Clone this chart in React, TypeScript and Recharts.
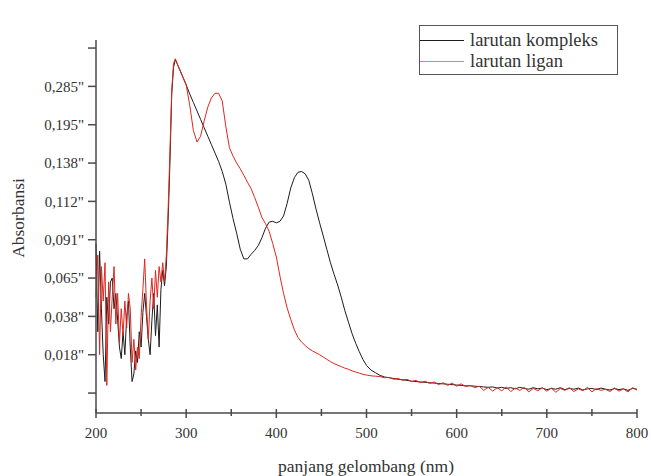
import { LineChart, Line, XAxis, YAxis } from "recharts";

const FONT = "'Liberation Serif', 'Times New Roman', serif";
const COLOR_AXIS = "#4a4a4a";
const COLOR_TEXT = "#333";
const COLOR_KOMPLEKS = "#1c1c1c";
const COLOR_LIGAN = "#e0261f";

// y values are positions on the (non-linear) axis, in tick steps
const Y_TICKS = [0, 1, 2, 3, 4, 5, 6, 7, 8, 9];
const Y_LABELS = ["", "0,018\"", "0,038\"", "0,065\"", "0,091\"", "0,112\"", "0,138\"", "0,195\"", "0,285\"", ""];
const X_TICKS = [200, 250, 300, 350, 400, 450, 500, 550, 600, 650, 700, 750, 800];

// noisy UV region
const nmA = [200, 202, 204, 206, 208, 210, 212, 214, 216, 218, 220, 222, 224, 226, 228, 230, 232, 234, 236, 238, 240, 242, 244, 246, 248, 250, 252, 254, 256, 258, 260, 262, 264, 266, 268, 270, 272, 274, 276, 278, 280];
const kompleksA = [3.9, 1.6, 3.7, 2.2, 1.0, 0.3, 2.5, 1.8, 2.9, 3.0, 2.2, 2.6, 1.9, 1.2, 0.9, 1.6, 1.0, 2.0, 2.4, 1.2, 0.3, 0.5, 1.1, 0.8, 1.6, 1.2, 2.1, 2.6, 2.0, 1.4, 1.0, 1.9, 2.6, 1.5, 2.3, 1.2, 2.7, 3.2, 2.8, 3.3, 4.5];
const liganA = [2.5, 3.6, 1.0, 3.3, 2.4, 3.4, 0.2, 2.9, 1.6, 2.5, 3.3, 1.8, 2.6, 1.3, 2.2, 1.5, 2.4, 1.7, 2.6, 2.2, 0.8, 1.4, 0.6, 1.2, 0.9, 2.0, 2.7, 3.5, 2.3, 1.4, 2.4, 3.0, 2.2, 3.2, 2.5, 3.3, 2.9, 3.4, 2.9, 3.6, 4.8];

// sharp rise to the first peak
const nmB = [282, 284, 286, 288, 290, 292];
const kompleksB = [6.0, 7.8, 8.5, 8.7, 8.59, 8.48];
const liganB = [6.3, 7.9, 8.6, 8.72, 8.6, 8.49];

// main bands
const nmC = [296, 300, 304, 308, 312, 316, 320, 324, 328, 332, 336, 340, 344, 348, 352, 356, 360, 364, 368, 372, 376, 380, 384, 388, 392, 396, 400, 404, 408, 412, 416, 420, 424, 428, 432, 436, 440, 444, 448, 452, 456, 460, 464, 468, 472, 476, 480, 484, 488, 492, 496, 500];
const kompleksC = [8.26, 8.04, 7.8, 7.58, 7.36, 7.14, 6.92, 6.7, 6.48, 6.26, 6.04, 5.78, 5.45, 4.98, 4.55, 4.17, 3.75, 3.5, 3.5, 3.62, 3.72, 3.85, 4.05, 4.3, 4.46, 4.48, 4.44, 4.48, 4.62, 4.95, 5.35, 5.62, 5.76, 5.78, 5.72, 5.55, 5.2, 4.8, 4.44, 4.1, 3.75, 3.4, 3.1, 2.82, 2.5, 2.15, 1.85, 1.55, 1.3, 1.08, 0.88, 0.72];
const liganC = [8.27, 8.04, 7.5, 6.85, 6.55, 6.7, 7.1, 7.46, 7.7, 7.82, 7.82, 7.62, 6.95, 6.4, 6.18, 6.0, 5.85, 5.68, 5.5, 5.33, 5.1, 4.85, 4.58, 4.42, 4.22, 3.9, 3.55, 3.05, 2.6, 2.22, 1.92, 1.65, 1.45, 1.33, 1.24, 1.16, 1.1, 1.05, 1.0, 0.94, 0.88, 0.82, 0.77, 0.73, 0.69, 0.65, 0.62, 0.58, 0.55, 0.52, 0.49, 0.47];

// visible tail
const nmD = [505, 510, 515, 520, 525, 530, 535, 540, 545, 550, 555, 560, 565, 570, 575, 580, 585, 590, 595, 600, 605, 610, 615, 620, 625, 630, 635, 640, 645, 650, 655, 660, 665, 670, 675, 680, 685, 690, 695, 700, 705, 710, 715, 720, 725, 730, 735, 740, 745, 750, 755, 760, 765, 770, 775, 780, 785, 790, 795, 800];
const kompleksD = [0.6, 0.53, 0.46, 0.42, 0.4, 0.38, 0.36, 0.35, 0.33, 0.31, 0.3, 0.29, 0.28, 0.27, 0.26, 0.25, 0.24, 0.23, 0.22, 0.21, 0.2, 0.19, 0.19, 0.18, 0.17, 0.16, 0.15, 0.16, 0.13, 0.15, 0.12, 0.14, 0.11, 0.15, 0.12, 0.1, 0.14, 0.11, 0.13, 0.09, 0.12, 0.1, 0.14, 0.09, 0.12, 0.1, 0.13, 0.08, 0.11, 0.12, 0.09, 0.13, 0.1, 0.08, 0.12, 0.09, 0.11, 0.07, 0.12, 0.1];
const liganD = [0.45, 0.44, 0.43, 0.4, 0.41, 0.36, 0.38, 0.33, 0.36, 0.3, 0.33, 0.27, 0.31, 0.25, 0.29, 0.22, 0.27, 0.2, 0.26, 0.18, 0.24, 0.17, 0.2, 0.14, 0.18, 0.07, 0.15, 0.05, 0.14, 0.06, 0.16, 0.04, 0.13, 0.07, 0.15, 0.03, 0.12, 0.06, 0.14, 0.05, 0.13, 0.02, 0.12, 0.07, 0.14, 0.04, 0.11, 0.06, 0.15, 0.03, 0.12, 0.07, 0.1, 0.04, 0.13, 0.05, 0.11, 0.03, 0.14, 0.08];

const wavelength = [...nmA, ...nmB, ...nmC, ...nmD];
const kompleks = [...kompleksA, ...kompleksB, ...kompleksC, ...kompleksD];
const ligan = [...liganA, ...liganB, ...liganC, ...liganD];

const data = wavelength.map((nm, i) => ({ nm, kompleks: kompleks[i], ligan: ligan[i] }));

type TickProps = { x?: number; y?: number; payload?: { value: number } };

function XTick({ x = 0, y = 0, payload }: TickProps) {
  const v = payload?.value ?? 0;
  const major = v % 100 === 0;
  return (
    <g>
      <line x1={x} x2={x} y1={y - 10} y2={y - (major ? 1 : 3)} stroke={COLOR_AXIS} strokeWidth={1.5} />
      {major && (
        <text x={x} y={y + 19} textAnchor="middle" fontFamily={FONT} fontSize={15} fill={COLOR_TEXT}>
          {v}
        </text>
      )}
    </g>
  );
}

export default function App() {
  return (
    <div style={{ position: "absolute", left: 0, top: 0, width: 651, height: 476, background: "#fff", fontFamily: FONT }}>
      <LineChart width={651} height={476} data={data} margin={{ top: 40, right: 14, left: 36, bottom: 33 }}>
        <XAxis
          dataKey="nm"
          type="number"
          domain={[200, 800]}
          ticks={X_TICKS}
          interval={0}
          height={30}
          tickSize={6}
          tickMargin={0}
          tickLine={false}
          tick={<XTick />}
          axisLine={{ stroke: COLOR_AXIS, strokeWidth: 1.5 }}
        />
        <YAxis
          type="number"
          domain={[-0.52, 9.21]}
          ticks={Y_TICKS}
          interval={0}
          allowDataOverflow
          width={60}
          tickSize={8}
          tickMargin={4}
          tickFormatter={(v: number) => Y_LABELS[v] ?? ""}
          tick={{ fontFamily: FONT, fontSize: 15, fill: COLOR_TEXT }}
          tickLine={{ stroke: COLOR_AXIS, strokeWidth: 1.5 }}
          axisLine={{ stroke: COLOR_AXIS, strokeWidth: 1.5 }}
        />
        <Line
          dataKey="kompleks"
          type="linear"
          stroke={COLOR_KOMPLEKS}
          strokeWidth={1}
          dot={false}
          activeDot={false}
          isAnimationActive={false}
        />
        <Line
          dataKey="ligan"
          type="linear"
          stroke={COLOR_LIGAN}
          strokeWidth={1}
          dot={false}
          activeDot={false}
          isAnimationActive={false}
        />
      </LineChart>

      {/* axis titles */}
      <div
        style={{
          position: "absolute",
          left: 18,
          top: 218,
          transform: "translate(-50%, -50%) rotate(-90deg)",
          fontSize: 17.5,
          color: COLOR_TEXT,
          whiteSpace: "nowrap",
        }}
      >
        Absorbansi
      </div>
      <div
        style={{
          position: "absolute",
          left: 366,
          top: 466,
          transform: "translate(-50%, -50%)",
          fontSize: 17.5,
          color: COLOR_TEXT,
          whiteSpace: "nowrap",
        }}
      >
        panjang gelombang (nm)
      </div>

      {/* legend */}
      <div
        style={{
          position: "absolute",
          left: 419,
          top: 25,
          width: 197,
          height: 48,
          border: "1.5px solid #555",
          fontSize: 18.5,
          color: COLOR_TEXT,
        }}
      >
        {[
          { name: "larutan kompleks", color: COLOR_KOMPLEKS, top: 4 },
          { name: "larutan ligan", color: COLOR_LIGAN, top: 25 },
        ].map((it) => (
          <div key={it.name} style={{ position: "absolute", left: 0, top: it.top, height: 20, display: "flex", alignItems: "center" }}>
            <span style={{ display: "inline-block", width: 44, height: 1, background: it.color, opacity: it.color === COLOR_LIGAN ? 0.6 : 1 }} />
            <span style={{ marginLeft: 6, lineHeight: "20px" }}>{it.name}</span>
          </div>
        ))}
      </div>
    </div>
  );
}
